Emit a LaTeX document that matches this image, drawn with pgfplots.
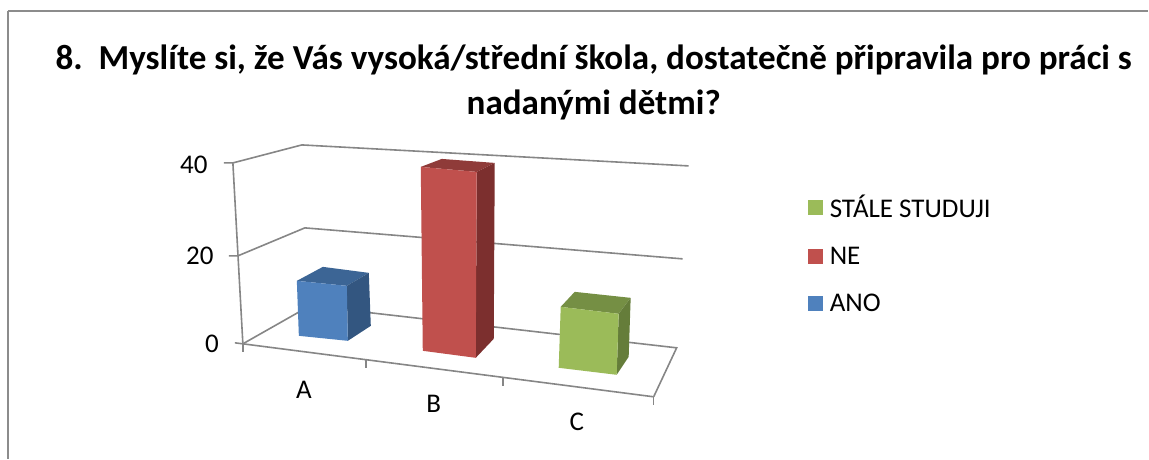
\documentclass[border=0pt]{standalone}
\usepackage{fontspec}
\setmainfont{Carlito}
\usepackage{pgfplots}
\pgfplotsset{compat=1.18}
\definecolor{gridc}{HTML}{868686}
\definecolor{frm}{HTML}{8C8C8C}
\definecolor{bluef}{HTML}{4F81BD}\definecolor{bluet}{HTML}{3C6595}\definecolor{blues}{HTML}{335680}
\definecolor{redf}{HTML}{C0504D}\definecolor{redt}{HTML}{8F3B39}\definecolor{reds}{HTML}{7C2F2E}
\definecolor{greenf}{HTML}{9BBB59}\definecolor{greent}{HTML}{758F44}\definecolor{greens}{HTML}{657D3A}
\begin{document}
\begin{tikzpicture}
\begin{axis}[
  scale only axis, width=1149pt, height=459pt,
  xmin=0, xmax=1149, ymin=0, ymax=459, y dir=reverse,
  hide axis, clip=false,
  legend style={at={(0.7032,0.579)}, anchor=north west, draw=none, fill=none,
    font=\fontsize{27}{29}\selectfont, row sep=24pt,
    legend cell align=left, inner sep=0pt},
  legend image code/.code={\path[draw=none,fill=none] (0pt,0pt) -- (20pt,0pt);\fill[draw=none,#1] (0pt,-7.5pt) rectangle (15pt,7.5pt);},
]
% canvas
\addplot[forget plot, draw=none] coordinates {(0,0) (1149,459)};
% frame
\addplot[forget plot, frm, line width=2pt] coordinates {(8,459) (8,11)};
\addplot[forget plot, frm, line width=1.2pt] coordinates {(8,11) (1149,11)};
% walls: y axis, gridlines, floor
\addplot[forget plot, gridc, line width=1.6pt] coordinates {(224,163) (233,163) (302,145) (689,166)};
\addplot[forget plot, gridc, line width=1.6pt] coordinates {(229,256) (238,256) (305,228) (683,259)};
\addplot[forget plot, gridc, line width=1.6pt] coordinates {(235,343) (243,344) (310,306) (677,348) (654,397)};
\addplot[forget plot, gridc, line width=1.6pt] coordinates {(233,163) (243,344) (654,397)};
\addplot[forget plot, gridc, line width=1.6pt] coordinates {(243,344) (243,352)};
\addplot[forget plot, gridc, line width=1.6pt] coordinates {(366,360) (366,368)};
\addplot[forget plot, gridc, line width=1.6pt] coordinates {(503,377) (503,386)};
\addplot[forget plot, gridc, line width=1.6pt] coordinates {(654,397) (654,405)};
% A
\addplot[forget plot, fill=bluet, draw=none] coordinates {(297,281) (323,267) (369,273) (347,286)} --cycle;
\addplot[forget plot, fill=blues, draw=none] coordinates {(347,286) (369,273) (371,326) (348,341)} --cycle;
\addplot[forget plot, fill=bluef, draw=none] coordinates {(297,281) (347,286) (348,341) (299,336)} --cycle;
% B
\addplot[forget plot, fill=redt, draw=none] coordinates {(421,167) (442,159) (495,163) (477,172)} --cycle;
\addplot[forget plot, fill=reds, draw=none] coordinates {(477,172) (495,163) (494,339) (476,358)} --cycle;
\addplot[forget plot, fill=redf, draw=none] coordinates {(421,167) (477,172) (476,358) (423,351)} --cycle;
% C
\addplot[forget plot, fill=greent, draw=none] coordinates {(561,307) (575,292) (631,298) (619,314)} --cycle;
\addplot[forget plot, fill=greens, draw=none] coordinates {(619,314) (631,298) (629,357) (617,375)} --cycle;
\addplot[forget plot, fill=greenf, draw=none] coordinates {(561,307) (619,314) (617,375) (559,368)} --cycle;
% legend
\addlegendimage{greenf}\addlegendentry{STÁLE STUDUJI}
\addlegendimage{redf}\addlegendentry{NE}
\addlegendimage{bluef}\addlegendentry{ANO}
% title
\node[font=\fontsize{35.1}{37}\selectfont\bfseries] at (axis cs:594,60) {8.\ \ Myslíte si, že Vás vysoká/střední škola, dostatečně připravila pro práci s};
\node[font=\fontsize{35.1}{37}\selectfont\bfseries] at (axis cs:594,105) {nadanými dětmi?};
% tick labels
\node[font=\fontsize{27}{29}\selectfont] at (axis cs:194,165) {40};
\node[font=\fontsize{27}{29}\selectfont] at (axis cs:200,256) {20};
\node[font=\fontsize{27}{29}\selectfont] at (axis cs:212,344) {0};
\node[font=\fontsize{27}{29}\selectfont] at (axis cs:304,390) {A};
\node[font=\fontsize{27}{29}\selectfont] at (axis cs:434,404) {B};
\node[font=\fontsize{27}{29}\selectfont] at (axis cs:577,422) {C};
\end{axis}
\end{tikzpicture}
\end{document}
